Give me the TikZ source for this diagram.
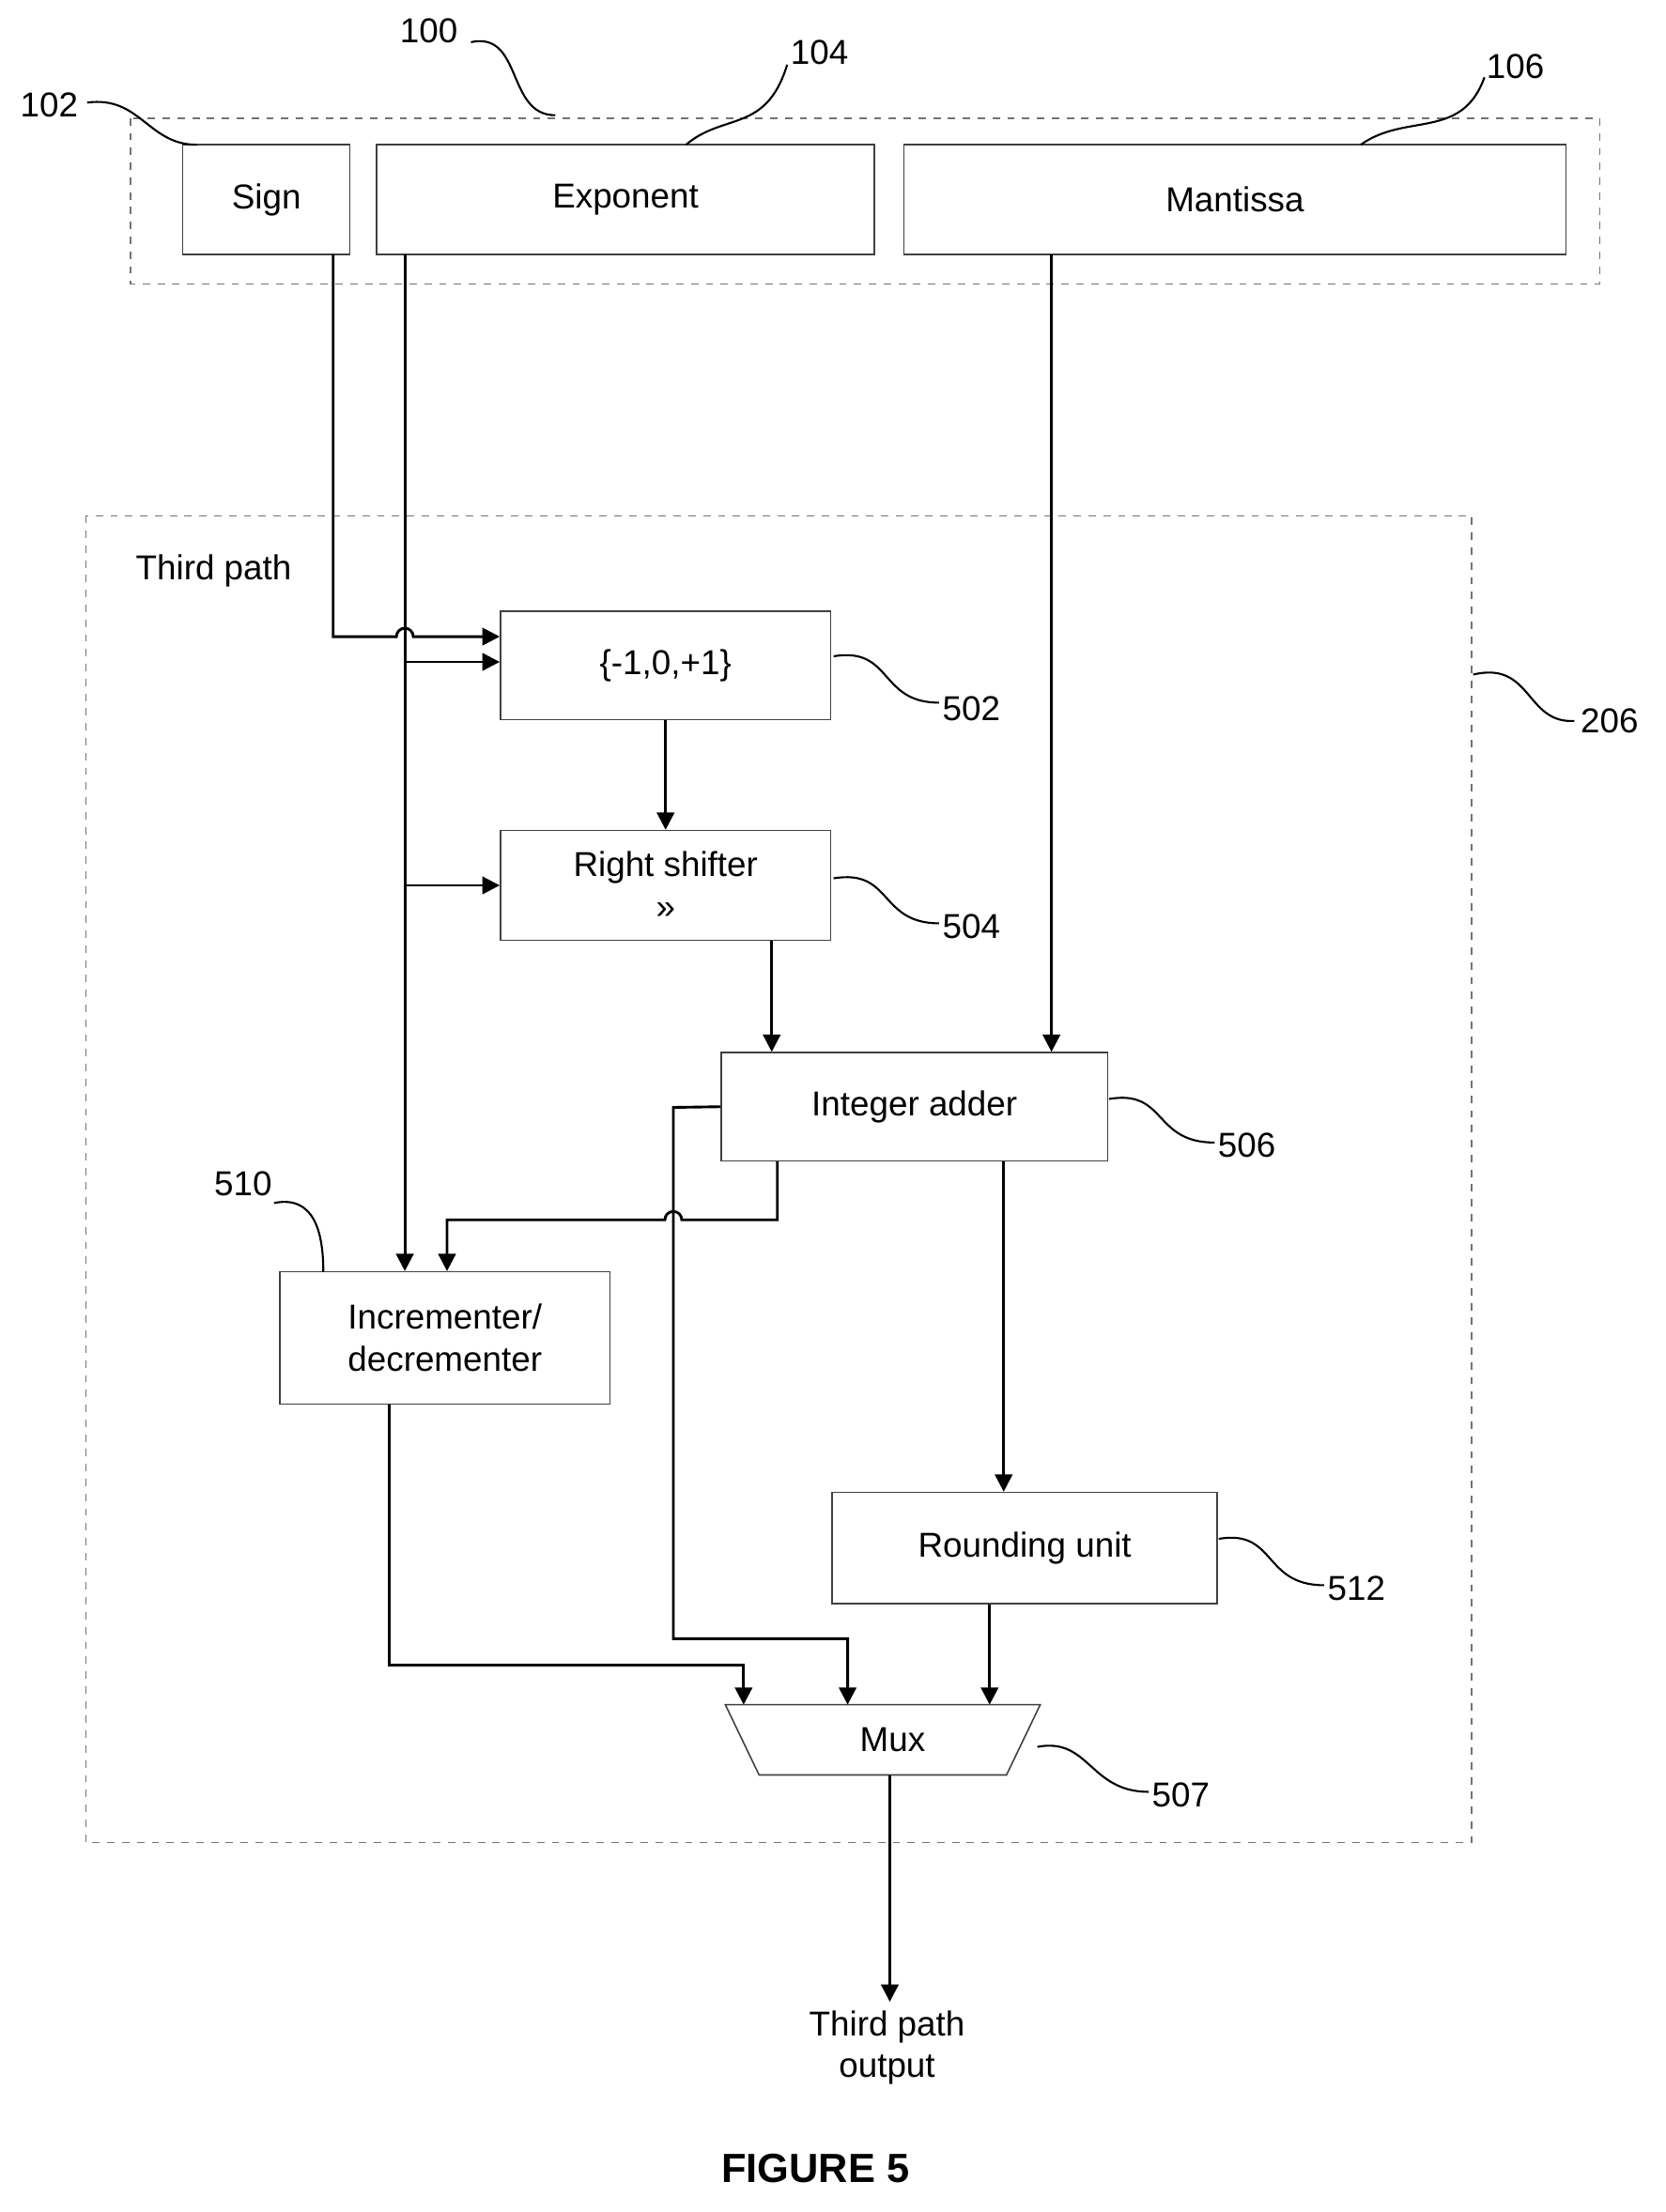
\documentclass[tikz,border=0pt]{standalone}
\usepackage{fontspec}
\setmainfont{Liberation Sans}
\usetikzlibrary{arrows.meta,shapes.geometric}
\begin{document}
\begin{tikzpicture}[x=0.02cm,y=-0.02cm,
  box/.style={draw=black!75,line width=0.6pt,inner sep=0pt,align=center,font=\fontsize{14}{17}\selectfont},
  dbox/.style={draw=black!55,dashed,line width=0.6pt},
  con/.style={line width=1.1pt},
  arr/.style={con,-{Triangle[length=7pt,width=7pt]}},
  sq/.style={line width=0.8pt},
  lbl/.style={font=\fontsize{14}{17}\selectfont}]
\useasboundingbox (0,0) rectangle (1185,1574);
% top register
\draw[dbox] (93,84) rectangle (1138,202);
\node[box,minimum width=2.38cm,minimum height=1.56cm] (sign) at (189.5,142) {Sign};
\node[box,minimum width=7.08cm,minimum height=1.56cm] (exp) at (445,142) {Exponent};
\node[box,minimum width=9.42cm,minimum height=1.56cm] (man) at (878.5,142) {Mantissa};
\node[lbl] (l100) at (305,22) {100};
\node[lbl] (l102) at (35,75) {102};
\node[lbl] (l104) at (583,37) {104};
\node[lbl] (l106) at (1078,47) {106};
\draw[sq] (335,30) .. controls (372,22) and (360,82) .. (395,82);
\draw[sq] (62,73) .. controls (100,68) and (105,103) .. (140,103);
\draw[sq] (560,46) .. controls (545,95) and (515,80) .. (488,103);
\draw[sq] (1056,55) .. controls (1040,100) and (1000,80) .. (968,103);
% third path box
\draw[dbox] (61,367) rectangle (1047,1311);
\node[lbl] (tp) at (152,406) {Third path};
\node[lbl] (l206) at (1145,513) {206};
\draw[sq] (1048,480) .. controls (1090,470) and (1085,515) .. (1120,513);
% blocks
\node[box,minimum width=4.7cm,minimum height=1.54cm] (b502) at (473.5,473.5) {\{-1,0,+1\}};
\node[box,minimum width=4.7cm,minimum height=1.56cm] (b504) at (473.5,630) {Right shifter\\>>};
\node[box,minimum width=5.5cm,minimum height=1.54cm] (b506) at (650.5,787.5) {Integer adder};
\node[box,minimum width=4.7cm,minimum height=1.88cm] (b510) at (316.5,952) {Incrementer/\\decrementer};
\node[box,minimum width=5.48cm,minimum height=1.58cm] (b512) at (729,1101.5) {Rounding unit};
\draw[line width=0.6pt,draw=black!75] (516,1213) -- (740,1213) -- (716,1263) -- (540,1263) -- cycle;
\node[lbl] (mux) at (635,1238) {Mux};
\coordinate (muxb) at (633,1263);
% labels
\node[lbl] (l502) at (691,504) {502};
\node[lbl] (l504) at (691,659) {504};
\node[lbl] (l506) at (887,815) {506};
\node[lbl] (l510) at (173,842) {510};
\node[lbl] (l512) at (965,1130) {512};
\node[lbl] (l507) at (840,1277) {507};
\draw[sq] (593,467) .. controls (635,460) and (625,500) .. (668,500);
\draw[sq] (593,625) .. controls (635,618) and (625,657) .. (668,657);
\draw[sq] (789,782) .. controls (830,775) and (820,813) .. (864,813);
\draw[sq] (867,1095) .. controls (908,1088) and (898,1128) .. (942,1128);
\draw[sq] (738,1243) .. controls (775,1236) and (775,1275) .. (817,1275);
\draw[sq] (195,856) .. controls (225,850) and (230,880) .. (230,905);
% connectors
\draw[arr] (237,181) -- (237,453) -- (282,453) arc[start angle=180,end angle=0,radius=0.12cm] -- (b502.west |- 0,453);
\draw[arr] (288,181) -- (b510.north -| 288,0);
\draw[arr] (288,471) -- (b502.west |- 0,471);
\draw[arr] (288,630) -- (b504.west);
\draw[arr] (748,181) -- (b506.north -| 748,0);
\draw[arr] (b502.south) -- (b504.north);
\draw[arr] (b504.south -| 549,0) -- (b506.north -| 549,0);
\draw[arr] (b506.south -| 553,0) -- (553,868) -- (485,868) arc[start angle=0,end angle=180,radius=0.12cm] -- (318,868) -- (b510.north -| 318,0);
\draw[arr] (b506.west) -- (479,788) -- (479,1166) -- (603,1166) -- (603,1213);
\draw[arr] (b506.south -| 714,0) -- (b512.north -| 714,0);
\draw[arr] (b510.south -| 277,0) -- (277,1185) -- (529,1185) -- (529,1213);
\draw[arr] (b512.south -| 704,0) -- (704,1213);
\node[lbl,align=center] (out) at (631,1457) {Third path\\output};
\draw[arr] (muxb) -- (out.north -| muxb);
\node[font=\fontsize{16.5}{20}\selectfont\bfseries] (fig) at (580,1543) {FIGURE 5};
\end{tikzpicture}
\end{document}
